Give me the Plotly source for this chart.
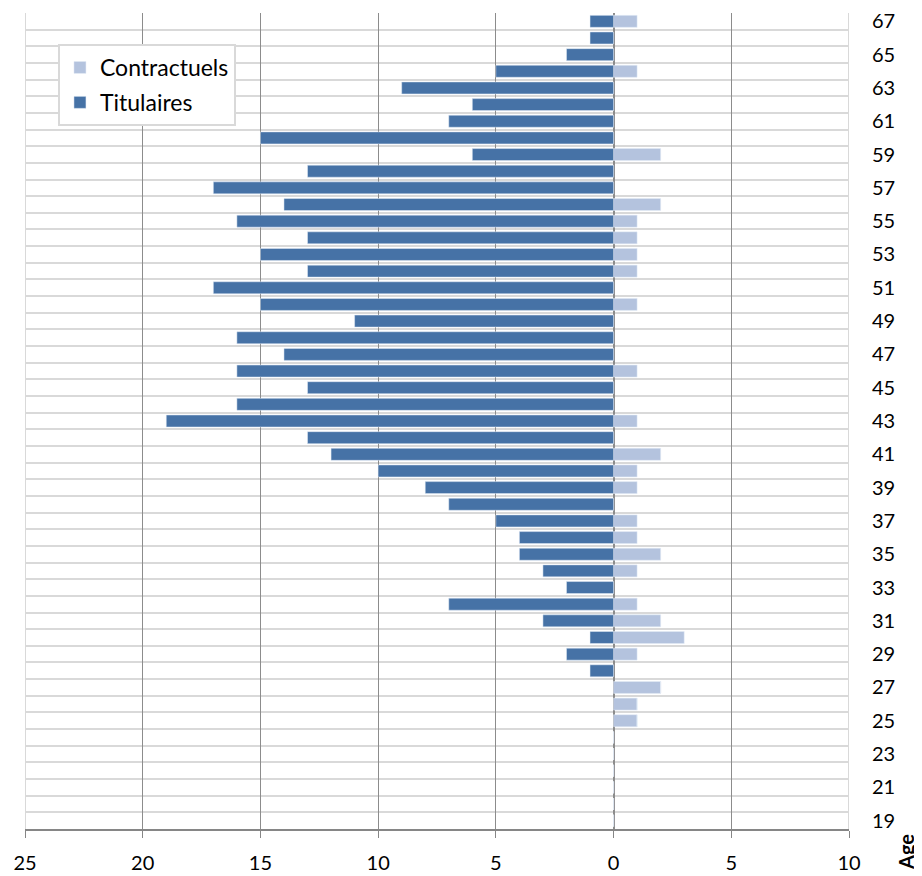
"""Age pyramid: Titulaires (left) vs Contractuels (right)."""

import plotly.graph_objects as go

# -- Data --------------------------------------------------------------------

ages = list(range(19, 68))

# Titulaires, ages 19..67 (drawn to the left)
titulaires = [
    0, 0, 0, 0, 0, 0, 0, 0, 0,       # 19-27
    1, 2, 1, 3, 7, 2, 3, 4, 4, 5,    # 28-37
    7, 8, 10, 12, 13, 19, 16, 13, 16, 14,  # 38-47
    16, 11, 15, 17, 13, 15, 13, 16, 14, 17,  # 48-57
    13, 6, 15, 7, 6, 9, 5, 2, 1, 1,  # 58-67
]

# Contractuels, ages 19..67 (drawn to the right)
contractuels = [
    0, 0, 0, 0, 0, 0, 1, 1, 2,       # 19-27
    0, 1, 3, 2, 1, 0, 1, 2, 1, 1,    # 28-37
    0, 1, 1, 2, 0, 1, 0, 0, 1, 0,    # 38-47
    0, 0, 1, 0, 1, 1, 1, 1, 2, 0,    # 48-57
    0, 2, 0, 0, 0, 0, 1, 0, 0, 1,    # 58-67
]

x_ticks = [-25, -20, -15, -10, -5, 0, 5, 10]
x_labels = [str(abs(v)) for v in x_ticks]
age_ticks = list(range(19, 68, 2))

# -- Style -------------------------------------------------------------------

FONT = "Lato, 'Open Sans', sans-serif"
DARK = "#4672A6"
LIGHT = "#B4C3DE"

fig = go.Figure()
fig.add_trace(go.Bar(
    y=ages, x=contractuels, orientation="h", name="Contractuels",
    marker_color=LIGHT, legendgroup="c",
))
fig.add_trace(go.Bar(
    y=ages, x=[-v for v in titulaires], orientation="h", name="Titulaires",
    marker_color=DARK, legendgroup="t",
))

# the page body adds an 8px offset, so margins are shifted to compensate
fig.update_layout(
    width=922, height=876,
    margin={"l": 17, "r": 81, "t": 0, "b": 55},
    paper_bgcolor="white", plot_bgcolor="white",
    barmode="relative", bargap=0.28,
    font={"family": FONT, "size": 20, "color": "#000000"},
    showlegend=True,
    legend={
        "x": 0.04, "y": 0.962, "xanchor": "left", "yanchor": "top",
        "bgcolor": "white", "bordercolor": "#D9D9D9", "borderwidth": 2,
        "traceorder": "grouped", "font": {"size": 23},
        "itemwidth": 30, "tracegroupgap": 2,
    },
)

fig.update_xaxes(
    range=[-25, 10], tickvals=x_ticks, ticktext=x_labels,
    showgrid=True, gridcolor="#8C8C8C", gridwidth=1,
    zeroline=True, zerolinecolor="#8C8C8C", zerolinewidth=2,
    showline=True, linecolor="#868686", linewidth=2,
    ticks="outside", ticklen=7, tickcolor="#868686",
    tickfont={"size": 20}, ticklabelstandoff=8, mirror=False,
)

fig.update_yaxes(
    range=[18.5, 67.5], tickvals=age_ticks, side="right",
    showgrid=False, zeroline=False, showline=False,
    ticks="", tickfont={"size": 20}, ticklabelstandoff=22,
    ticklabeloverflow="allow",
    minor={"tick0": 18.5, "dtick": 1, "showgrid": True,
           "gridcolor": "#D9D9D9", "gridwidth": 2},
)

# light frame lines at both ends of the value axis
fig.add_shape(type="line", xref="x", yref="paper", x0=-25, x1=-25, y0=0, y1=1,
              line={"color": "#D9D9D9", "width": 2}, layer="below")
fig.add_shape(type="line", xref="x", yref="paper", x0=10, x1=10, y0=0, y1=1,
              line={"color": "#D9D9D9", "width": 2}, layer="below")

fig.add_annotation(
    text="<b>Age</b>", textangle=-90, xref="paper", yref="paper",
    x=1.07, y=-0.004, xanchor="center", yanchor="top", showarrow=False,
    font={"size": 20},
)

fig.write_html("out.html")
